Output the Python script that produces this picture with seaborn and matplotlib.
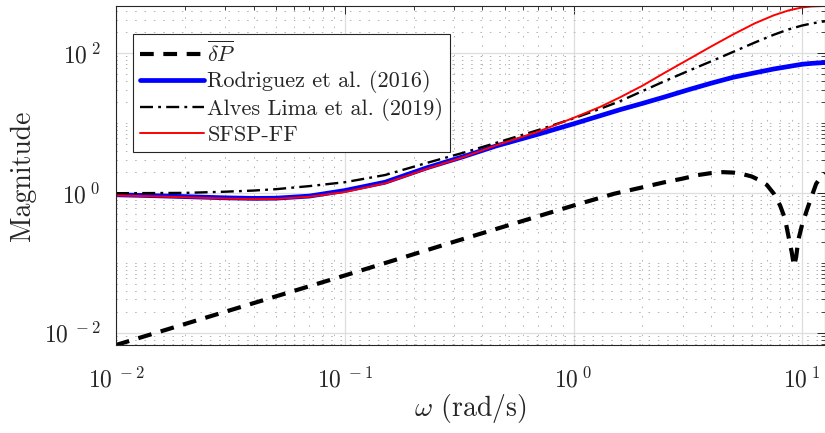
import numpy as np
import matplotlib
matplotlib.use("Agg")
import matplotlib.pyplot as plt
import seaborn as sns
from matplotlib.ticker import LogLocator, FixedLocator, FuncFormatter, NullFormatter

# ---------------- data ----------------
w = [0.01, 0.015, 0.02, 0.03, 0.04, 0.05, 0.07, 0.1, 0.15, 0.23, 0.33, 0.46,
     0.7, 1.0, 1.3, 1.6, 2.0, 2.5, 3.2, 4.0, 5.0, 6.2, 7.5, 8.7, 10.0, 11.0, 12.57]
mag_rodriguez = [0.94, 0.91, 0.885, 0.85, 0.835, 0.84, 0.9, 1.08, 1.42, 2.3, 3.3, 4.7,
                 6.9, 9.7, 12.6, 15.5, 19, 23.5, 30, 37, 45, 52, 59, 64, 69, 71, 73]
mag_alves = [0.99, 0.995, 1.0, 1.04, 1.08, 1.13, 1.25, 1.42, 1.8, 2.7, 3.75, 5.2,
             7.9, 11.6, 15.8, 20.5, 28.5, 39.5, 56, 76, 104, 141, 182, 217, 247, 264, 284]
mag_sfsp = [0.92, 0.89, 0.865, 0.83, 0.815, 0.82, 0.88, 1.03, 1.37, 2.22, 3.25, 4.8,
            7.5, 11.8, 16.8, 23.3, 34, 52, 82, 124, 185, 265, 345, 405, 448, 462, 470]

w_dp = [0.01, 0.03, 0.1, 0.3, 1.0, 1.5, 2.0, 2.5, 3.0, 3.5, 4.0, 4.5, 5.0, 5.5,
        6.0, 6.5, 7.0, 7.5, 8.0, 8.4, 8.8, 9.0, 9.2, 9.4, 9.6, 10.0, 10.5, 11.0,
        11.5, 12.0, 12.57]
mag_dp = [0.0067, 0.020, 0.066, 0.20, 0.66, 0.97, 1.2, 1.42, 1.6, 1.8, 1.92, 1.98,
          1.95, 1.85, 1.72, 1.52, 1.3, 0.98, 0.66, 0.43, 0.2, 0.14, 0.09, 0.12, 0.21,
          0.36, 0.58, 0.9, 1.35, 1.65, 1.9]

x_ticks = [1e-2, 1e-1, 1e0, 1e1]
y_ticks = [1e-2, 1e0, 1e2]
series_labels = [r'$\overline{\delta P}$', 'Rodriguez et al. (2016)',
                 'Alves Lima et al. (2019)', 'SFSP-FF']

# ---------------- style ----------------
sns.set_style("white")
plt.rcParams.update({
    'font.family': 'serif',
    'font.serif': ['cmr10', 'DejaVu Serif'],
    'mathtext.fontset': 'cm',
    'axes.unicode_minus': False,
    'axes.formatter.use_mathtext': True,
})

W, H = 825, 433
fig = plt.figure(figsize=(W / 100, H / 100), dpi=100)
L, R, T, B = 116, 825, 6, 345
ax = fig.add_axes([L / W, 1 - B / H, (R - L) / W, (B - T) / H])
ax.set_xscale('log')
ax.set_yscale('log')

sns.lineplot(x=w_dp, y=mag_dp, ax=ax, color='black', linewidth=3.0,
             linestyle=(0, (3.3, 2.3)), label=series_labels[0], errorbar=None)
sns.lineplot(x=w, y=mag_rodriguez, ax=ax, color=(0, 0, 1), linewidth=3.4,
             label=series_labels[1], errorbar=None)
sns.lineplot(x=w, y=mag_alves, ax=ax, color='black', linewidth=1.7,
             linestyle=(0, (5.5, 2.2, 1.2, 2.2)), label=series_labels[2], errorbar=None)
sns.lineplot(x=w, y=mag_sfsp, ax=ax, color=(1, 0, 0), linewidth=1.4,
             label=series_labels[3], errorbar=None)

ax.set_xlim(0.01, 12.57)
ax.set_ylim(0.0067, 469)

fmt = FuncFormatter(lambda v, p: r'$10^{\;%d}$' % int(round(np.log10(v))))
ax.xaxis.set_major_locator(FixedLocator(x_ticks))
ax.yaxis.set_major_locator(FixedLocator(y_ticks))
ax.xaxis.set_major_formatter(fmt)
ax.yaxis.set_major_formatter(fmt)
ax.xaxis.set_minor_locator(LogLocator(base=10, subs=np.arange(2, 10), numticks=100))
ax.yaxis.set_minor_locator(LogLocator(base=10, subs=np.arange(1, 10), numticks=100))
ax.xaxis.set_minor_formatter(NullFormatter())
ax.yaxis.set_minor_formatter(NullFormatter())

ax.set_axisbelow(True)
ax.grid(which='major', color='#dedede', linewidth=0.9, linestyle='-')
ax.grid(which='minor', color='#b4b4b4', linewidth=0.7, linestyle=(0, (1.6, 8)))

edge = '#262626'
for s in ax.spines.values():
    s.set_visible(True)
    s.set_color(edge)
    s.set_linewidth(0.8)
ax.tick_params(which='both', direction='in', top=True, right=True, colors=edge,
               labelcolor='#262626')
ax.tick_params(which='major', length=6, width=0.7)
ax.tick_params(which='minor', length=3, width=0.6)
ax.tick_params(axis='x', which='major', labelsize=17, pad=16)
ax.tick_params(axis='y', which='major', labelsize=17, pad=11)

ax.set_xlabel(r'$\omega$ (rad/s)', fontsize=20, labelpad=0, color='#262626')
ax.set_ylabel('Magnitude', fontsize=20, labelpad=6, color='#262626')

leg = ax.legend(loc='upper left',
                bbox_to_anchor=((133 - L) / (R - L), (B - 34) / (B - T)),
                fontsize=16, frameon=True, fancybox=False, edgecolor=edge,
                framealpha=1, handlelength=2.9, handletextpad=0.15,
                labelspacing=0.2, borderpad=0.3, borderaxespad=0)
leg.get_frame().set_linewidth(0.8)

fig.savefig('out.png', dpi=100)
